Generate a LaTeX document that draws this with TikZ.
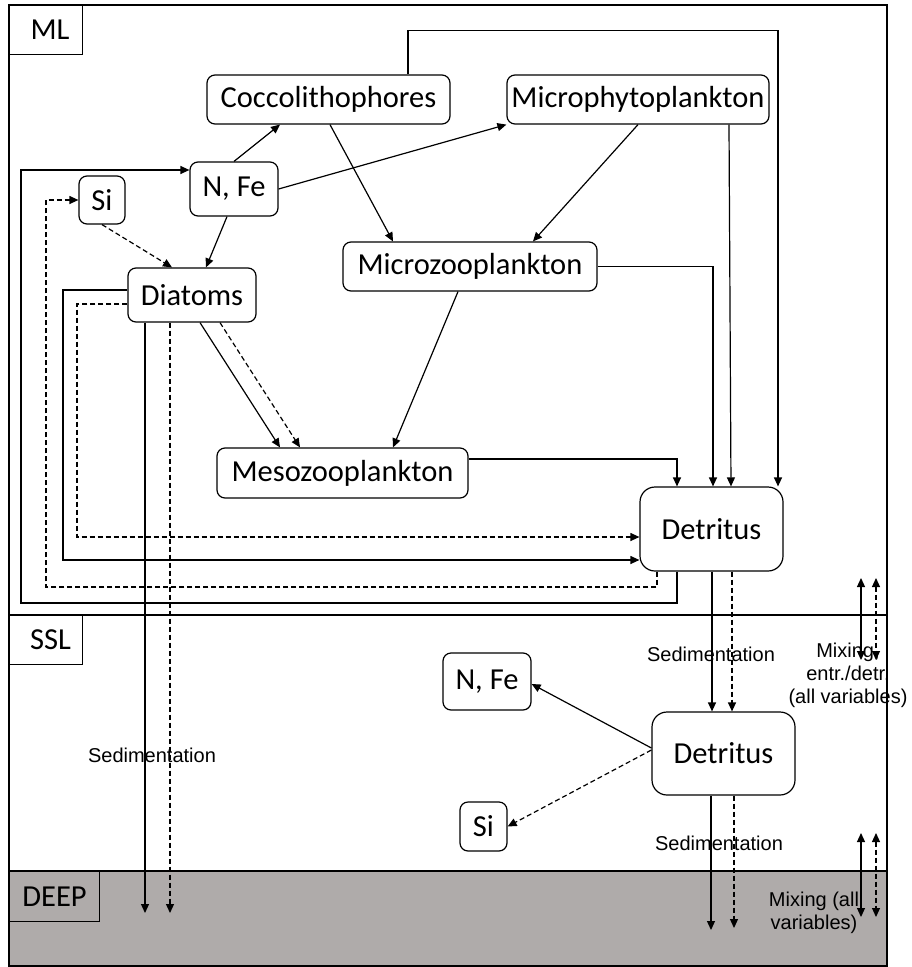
\documentclass[tikz,border=0pt]{standalone}
\usepackage{fontspec}
\usepackage{tikz}
\usetikzlibrary{arrows.meta}

\newfontfamily\calibrifont{Carlito}
\newfontfamily\arialfont{Liberation Sans}
\newcommand{\boxfont}{\calibrifont\fontsize{30.5}{36}\selectfont}
\newcommand{\notefont}{\arialfont\fontsize{20}{23}\selectfont}
\definecolor{deepgrey}{RGB}{175,171,170}

\begin{document}
\begin{tikzpicture}[x=1pt,y=-1pt,line width=1.2pt,
  pool/.style={draw,rounded corners=8pt,inner sep=0pt,font=\boxfont},
  layerbox/.style={draw,inner sep=0pt,font=\boxfont,anchor=north west},
  flow/.style={-{Triangle[length=9pt,width=8pt]}},
  dflow/.style={flow,dash pattern=on 5pt off 3pt},
  mix/.style={{Triangle[length=9pt,width=8pt]}-{Triangle[length=9pt,width=8pt]}},
  note/.style={font=\notefont,align=center,inner sep=0pt}]
\useasboundingbox (0,0) rectangle (911,967);

% Layers
\fill[deepgrey] (9,871) rectangle (887,966);
\draw (9,5) rectangle (887,966);
\draw (9,615) -- (887,615);
\draw (9,871) -- (887,871);

\node[layerbox,minimum width=73pt,minimum height=49pt] (ml) at (9,5) {\hspace*{8pt}ML};
\node[layerbox,minimum width=73pt,minimum height=49pt] (ssl) at (9,615) {\hspace*{9pt}SSL};
\node[layerbox,fill=deepgrey,minimum width=90pt,minimum height=50pt] (deep) at (9,871) {DEEP};

% ML boxes
\node[pool,minimum width=243pt,minimum height=49pt] (cocco) at (328.5,99.5) {Coccolithophores};
\node[pool,minimum width=262pt,minimum height=49pt] (micph) at (638,99.5) {Microphytoplankton};
\node[pool,minimum width=88pt,minimum height=54pt] (nfe) at (234,189) {N, Fe};
\node[pool,minimum width=46pt,minimum height=48pt] (si) at (102,200) {Si};
\node[pool,minimum width=128pt,minimum height=54pt] (diatoms) at (192,295) {Diatoms};
\node[pool,minimum width=254pt,minimum height=49pt] (microzoo) at (470,266.5) {Microzooplankton};
\node[pool,minimum width=251pt,minimum height=50pt] (mesozoo) at (342.5,473) {Mesozooplankton};
\node[pool,rounded corners=15pt,minimum width=143pt,minimum height=84pt] (detml) at (711.5,529) {Detritus};

% SSL boxes
\node[pool,minimum width=88pt,minimum height=57pt] (nfessl) at (487,681.5) {N, Fe};
\node[pool,minimum width=47pt,minimum height=49pt] (sissl) at (483.5,826.5) {Si};
\node[pool,rounded corners=15pt,minimum width=143pt,minimum height=83pt] (detssl) at (723.5,753.5) {Detritus};

% uptake and grazing
\draw[flow] (nfe.north) -- ([xshift=-48.5pt]cocco.south);
\draw[flow] (nfe.east) -- (micph.south west);
\draw[flow] ([xshift=-7pt]nfe.south) -- ([xshift=14pt]diatoms.north);
\draw[dflow] (si.south) -- ([xshift=-20pt]diatoms.north);
\draw[flow] ([xshift=1.5pt]cocco.south) -- ([xshift=-77pt]microzoo.north);
\draw[flow] (micph.south) -- ([xshift=63pt]microzoo.north);
\draw[flow] ([xshift=-12pt]microzoo.south) -- ([xshift=50.5pt]mesozoo.north);
\draw[flow] ([xshift=8pt]diatoms.south) -- ([xshift=-62.5pt]mesozoo.north);
\draw[dflow] ([xshift=28pt]diatoms.south) -- ([xshift=-42.5pt]mesozoo.north);

% to detritus
\draw[flow] ([xshift=79.5pt]cocco.north) -- ++(0,-44) -| ([xshift=66.5pt]detml.north);
\draw[flow] ([xshift=91pt]micph.south) -- ([xshift=19.5pt]detml.north);
\draw[flow] (microzoo.east) -| ([xshift=1.5pt]detml.north);
\draw[flow] ([yshift=14pt]mesozoo.east) -| ([xshift=-34.5pt]detml.north);
\draw[flow] ([yshift=5pt]diatoms.west) -| (63,560) -- ([yshift=-31pt]detml.west);
\draw[dflow] ([yshift=-9pt]diatoms.west) -| (77,537) -- ([yshift=-8pt]detml.west);

% remineralisation
\draw[flow] ([xshift=-34.5pt]detml.south) |- (21,603) |- ([yshift=19pt]nfe.west);
\draw[dflow] ([xshift=-54.5pt]detml.south) |- (46,587) |- (si.west);
\draw[flow] ([yshift=5.5pt]detssl.west) -- ([yshift=-2.5pt]nfessl.east);
\draw[dflow] ([yshift=3.5pt]detssl.west) -- (sissl.east);

% sedimentation
\coordinate (diased) at (145,913);
\coordinate (diadsed) at (170,913);
\coordinate (detsed) at (711,930);
\coordinate (detdsed) at (734,928);
\draw[flow] ([xshift=-47pt]diatoms.south) -- (diased);
\draw[dflow] ([xshift=-22pt]diatoms.south) -- (diadsed);
\draw[flow] ([xshift=0.5pt]detml.south) -- ([xshift=-11.5pt]detssl.north);
\draw[dflow] ([xshift=20.5pt]detml.south) -- ([xshift=8.5pt]detssl.north);
\draw[flow] ([xshift=-12.5pt]detssl.south) -- (detsed);
\draw[dflow] ([xshift=10.5pt]detssl.south) -- (detdsed);

\node[note] (sedA) at (152,755) {Sedimentation};
\node[note] (sedB) at (711,654) {Sedimentation};
\node[note] (sedC) at (719,843) {Sedimentation};

% mixing
\coordinate (mixa1) at (861,578);
\coordinate (mixa2) at (861,660);
\coordinate (mixb1) at (876,578);
\coordinate (mixb2) at (876,660);
\coordinate (mixc1) at (861,833);
\coordinate (mixc2) at (861,917);
\coordinate (mixd1) at (876,833);
\coordinate (mixd2) at (876,917);
\draw[mix] (mixa1) -- (mixa2);
\draw[mix,dash pattern=on 5pt off 3pt] (mixb1) -- (mixb2);
\draw[mix] (mixc1) -- (mixc2);
\draw[mix,dash pattern=on 5pt off 3pt] (mixd1) -- (mixd2);

\node[note] (mixtop) at (848,675) {Mixing,\\entr./detr.\\(all variables)};
\node[note] (mixbot) at (814,913) {Mixing (all\\variables)};

\end{tikzpicture}
\end{document}
